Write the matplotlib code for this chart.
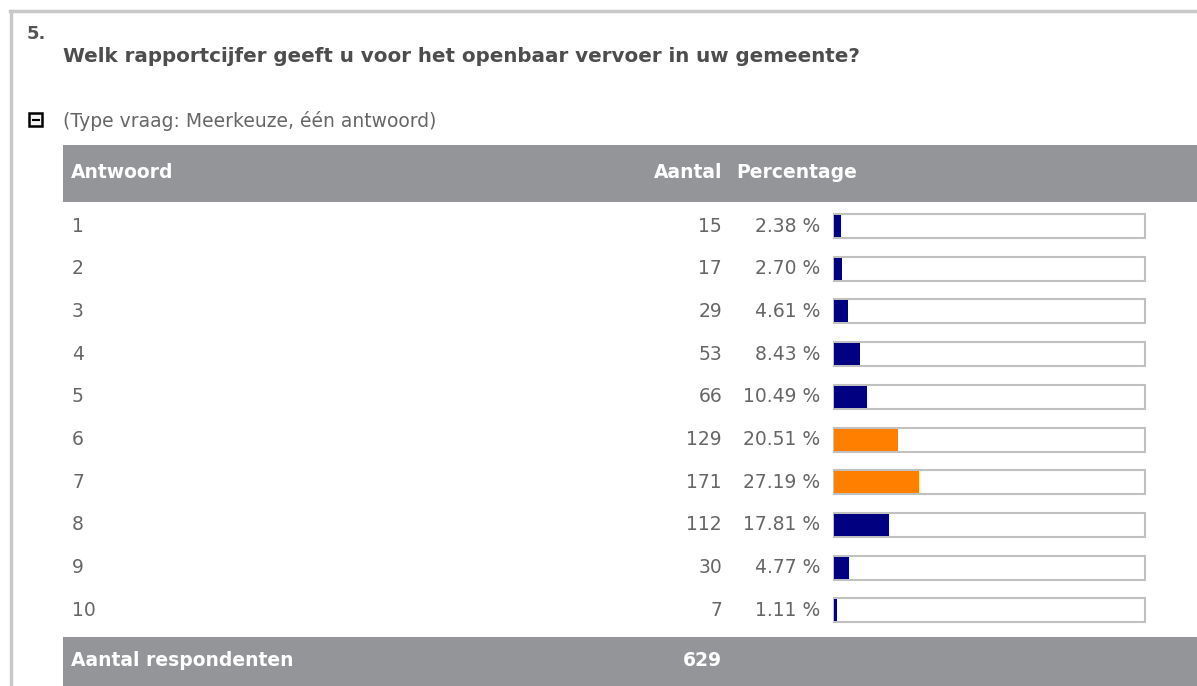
import numpy as np
import matplotlib.pyplot as plt
from matplotlib.patches import Rectangle

plt.rcParams['font.family'] = 'DejaVu Sans'

# Gegevens
antwoorden = ['1', '2', '3', '4', '5', '6', '7', '8', '9', '10']
aantal = [15, 17, 29, 53, 66, 129, 171, 112, 30, 7]
percentage = [2.38, 2.70, 4.61, 8.43, 10.49, 20.51, 27.19, 17.81, 4.77, 1.11]
kleuren = ['#000080'] * 5 + ['#ff8000'] * 2 + ['#000080'] * 3
totaal = 629

grijs_kop = '#939598'
grijs_tekst = '#666666'
fs = 13.5

fig = plt.figure(figsize=(11.97, 6.86), dpi=100)
ax = fig.add_axes([0, 0, 1, 1])
ax.set_xlim(0, 1197)
ax.set_ylim(686, 0)
ax.axis('off')

# kader
ax.plot([10, 1197], [11, 11], color='#c8c8c8', lw=2.5)
ax.plot([11, 11], [11, 686], color='#c8c8c8', lw=2.5)

ax.text(27, 34, '5.', fontsize=13, fontweight='bold', color='#555555', va='center')
ax.text(63, 56, 'Welk rapportcijfer geeft u voor het openbaar vervoer in uw gemeente?',
        fontsize=14.3, fontweight='bold', color='#4d4d4d', va='center')

# ikoon
ax.add_patch(Rectangle((29, 113), 13, 13, facecolor='#f4f4f4', edgecolor='black', lw=1.8))
ax.plot([32.5, 38.5], [119.5, 119.5], color='black', lw=1.5)
ax.text(63, 121, '(Type vraag: Meerkeuze, één antwoord)', fontsize=fs,
        color=grijs_tekst, va='center')

# kop
ax.add_patch(Rectangle((63, 145), 1197 - 63, 57, facecolor=grijs_kop, edgecolor='none'))
ax.text(71, 173, 'Antwoord', fontsize=fs, fontweight='bold', color='white', va='center')
ax.text(722, 173, 'Aantal', fontsize=fs, fontweight='bold', color='white', va='center', ha='right')
ax.text(736, 173, 'Percentage', fontsize=fs, fontweight='bold', color='white', va='center')

# rijen
rij_y = 226 + 42.7 * np.arange(len(antwoorden))
box_x, box_w, box_h = 834, 311, 24
for y, a, n, p in zip(rij_y, antwoorden, aantal, percentage):
    ax.text(72, y, a, fontsize=fs, color=grijs_tekst, va='center')
    ax.text(722, y, str(n), fontsize=fs, color=grijs_tekst, va='center', ha='right')
    ax.text(820, y, f'{p:.2f} %', fontsize=fs, color=grijs_tekst, va='center', ha='right')
    ax.add_patch(Rectangle((box_x, y - box_h / 2), box_w, box_h, facecolor='white',
                           edgecolor='#c0c0c0', lw=1.5))

ax.barh(rij_y, np.array(percentage) / 100 * box_w, left=box_x, height=box_h - 2,
        color=kleuren, zorder=3)

# voet
ax.add_patch(Rectangle((63, 637), 1197 - 63, 49, facecolor=grijs_kop, edgecolor='none'))
ax.text(71, 661, 'Aantal respondenten', fontsize=fs, fontweight='bold', color='white', va='center')
ax.text(722, 661, str(totaal), fontsize=fs, fontweight='bold', color='white', va='center', ha='right')

fig.savefig('out.png', dpi=100)
